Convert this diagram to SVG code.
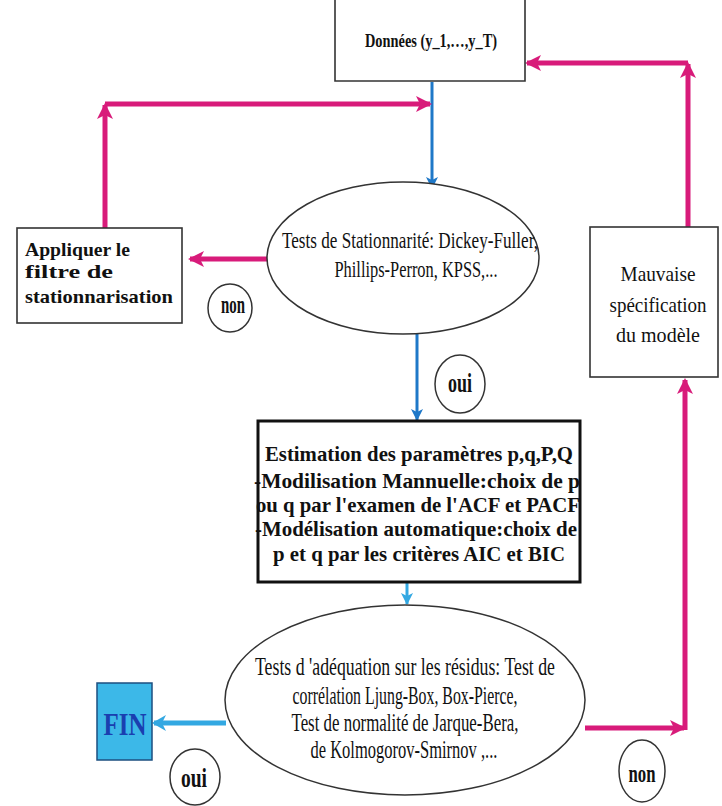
<svg xmlns="http://www.w3.org/2000/svg" width="722" height="806" viewBox="0 0 722 806" font-family="'Liberation Serif', 'Times New Roman', serif">
<style>
.box{fill:#fff;stroke:#333;stroke-width:1.6}
.ell{fill:#fff;stroke:#333;stroke-width:1.5}
.t{fill:#111;text-anchor:middle}
.b{font-weight:bold;fill:#111}
.mg{fill:none;stroke:#d81b7a;stroke-width:5}
.bl{fill:none;stroke:#1f78c8;stroke-width:3}
.lb{fill:none;stroke:#33a8e2;stroke-width:3}
.lb2{fill:none;stroke:#33a8e2;stroke-width:5}
</style>
<defs>
<marker id="am" markerUnits="userSpaceOnUse" markerWidth="20" markerHeight="20" refX="14" refY="8" orient="auto"><path d="M0,0 L16,8 L0,16 L4,8 Z" fill="#d81b7a"/></marker>
<marker id="ab" markerUnits="userSpaceOnUse" markerWidth="16" markerHeight="16" refX="11" refY="6" orient="auto"><path d="M0,0 L12,6 L0,12 L3,6 Z" fill="#1f78c8"/></marker>
<marker id="alb" markerUnits="userSpaceOnUse" markerWidth="16" markerHeight="16" refX="11" refY="6" orient="auto"><path d="M0,0 L12,6 L0,12 L3,6 Z" fill="#33a8e2"/></marker>
<marker id="alb2" markerUnits="userSpaceOnUse" markerWidth="20" markerHeight="20" refX="12" refY="8" orient="auto"><path d="M0,0 L14,8 L0,16 L4,8 Z" fill="#33a8e2"/></marker>
</defs>
<rect width="722" height="806" fill="#fff"/>
<g id="connectors">
<path class="bl" d="M432,82 V188" marker-end="url(#ab)"/>
<path class="bl" d="M417,334 V420" marker-end="url(#ab)"/>
<path class="lb" d="M407,583 V604" marker-end="url(#alb)"/>
<path class="lb2" d="M226,723 H154" marker-end="url(#alb2)"/>
<path class="mg" d="M273,259 H190" marker-end="url(#am)"/>
<path class="mg" d="M105,228 V105" marker-end="url(#am)"/>
<path class="mg" d="M105,104 H430" marker-end="url(#am)"/>
<path class="mg" d="M688,227 V64" marker-end="url(#am)"/>
<path class="mg" d="M688,63 H527" marker-end="url(#am)"/>
<path class="mg" d="M585,728 H684" marker-end="url(#am)"/>
<path class="mg" d="M685,730 V380" marker-end="url(#am)"/>
</g>
<g id="donnees">
<path class="box" d="M335,-2 V81 H525 V-2"/>
<text class="t" x="431" y="47" font-size="19" font-weight="bold" textLength="132" lengthAdjust="spacingAndGlyphs">Données (y_1,…,y_T)</text>
</g>
<g id="stationnarite">
<ellipse class="ell" cx="403" cy="258" rx="136" ry="76"/>
<text class="t" x="410" y="248" font-size="23" textLength="256" lengthAdjust="spacingAndGlyphs">Tests de Stationnarité: Dickey-Fuller,</text>
<text class="t" x="416" y="277" font-size="23" textLength="163" lengthAdjust="spacingAndGlyphs">Phillips-Perron, KPSS,...</text>
</g>
<g id="appliquer">
<rect class="box" x="17" y="228" width="165" height="95"/>
<text class="b" x="25" y="256" font-size="19" textLength="105" lengthAdjust="spacingAndGlyphs">Appliquer le</text>
<text class="b" x="25" y="278" font-size="19" textLength="88" lengthAdjust="spacingAndGlyphs">filtre de</text>
<text class="b" x="25" y="303" font-size="19" textLength="148" lengthAdjust="spacingAndGlyphs">stationnarisation</text>
</g>
<g id="non1">
<ellipse class="ell" cx="230" cy="308" rx="22" ry="24"/>
<text class="t" x="233" y="313" font-size="26" font-weight="bold" textLength="24" lengthAdjust="spacingAndGlyphs">non</text>
</g>
<g id="mauvaise">
<rect class="box" x="590" y="227" width="128" height="150"/>
<text class="t" x="658" y="281" font-size="22" textLength="75" lengthAdjust="spacingAndGlyphs">Mauvaise</text>
<text class="t" x="658" y="312" font-size="22" textLength="97" lengthAdjust="spacingAndGlyphs">spécification</text>
<text class="t" x="658" y="342" font-size="22" textLength="84" lengthAdjust="spacingAndGlyphs">du modèle</text>
</g>
<g id="oui1">
<ellipse class="ell" cx="460" cy="384" rx="25" ry="29"/>
<text class="t" x="460" y="392" font-size="28" font-weight="bold" textLength="24" lengthAdjust="spacingAndGlyphs">oui</text>
</g>
<g id="estimation">
<rect x="258" y="421" width="322" height="161" fill="#fff" stroke="#111" stroke-width="3"/>
<text class="b" x="419" y="461" font-size="22" text-anchor="middle" textLength="308" lengthAdjust="spacingAndGlyphs">Estimation des paramètres p,q,P,Q</text>
<text class="b" x="417" y="488" font-size="22" text-anchor="middle" textLength="326" lengthAdjust="spacingAndGlyphs">-Modilisation Mannuelle:choix de p</text>
<text class="b" x="418" y="512" font-size="22" text-anchor="middle" textLength="324" lengthAdjust="spacingAndGlyphs">ou q par l'examen de l'ACF et PACF</text>
<text class="b" x="416" y="536" font-size="22" text-anchor="middle" textLength="322" lengthAdjust="spacingAndGlyphs">-Modélisation automatique:choix de</text>
<text class="b" x="419" y="561" font-size="22" text-anchor="middle" textLength="292" lengthAdjust="spacingAndGlyphs">p et q par les critères AIC et BIC</text>
</g>
<g id="adequation">
<ellipse class="ell" cx="405" cy="700" rx="180" ry="95"/>
<text class="t" x="405" y="675" font-size="25" textLength="300" lengthAdjust="spacingAndGlyphs">Tests d 'adéquation sur les résidus: Test de</text>
<text class="t" x="405" y="704" font-size="25" textLength="225" lengthAdjust="spacingAndGlyphs">corrélation Ljung-Box, Box-Pierce,</text>
<text class="t" x="405" y="731" font-size="25" textLength="227" lengthAdjust="spacingAndGlyphs">Test de normalité de Jarque-Bera,</text>
<text class="t" x="404" y="758" font-size="25" textLength="187" lengthAdjust="spacingAndGlyphs">de Kolmogorov-Smirnov ,...</text>
</g>
<g id="fin">
<rect x="97" y="683" width="55" height="77" fill="#3cb8e8" stroke="#1d4f80" stroke-width="1.5"/>
<text x="125" y="735" font-weight="bold" font-size="32" fill="#1a3fb0" text-anchor="middle" textLength="43" lengthAdjust="spacingAndGlyphs">FIN</text>
</g>
<g id="oui2">
<ellipse class="ell" cx="195" cy="777" rx="25" ry="28"/>
<text class="t" x="194" y="787" font-size="28" font-weight="bold" textLength="26" lengthAdjust="spacingAndGlyphs">oui</text>
</g>
<g id="non2">
<ellipse class="ell" cx="642" cy="771" rx="23" ry="31"/>
<text class="t" x="642" y="782" font-size="26" font-weight="bold" textLength="27" lengthAdjust="spacingAndGlyphs">non</text>
</g>
</svg>
